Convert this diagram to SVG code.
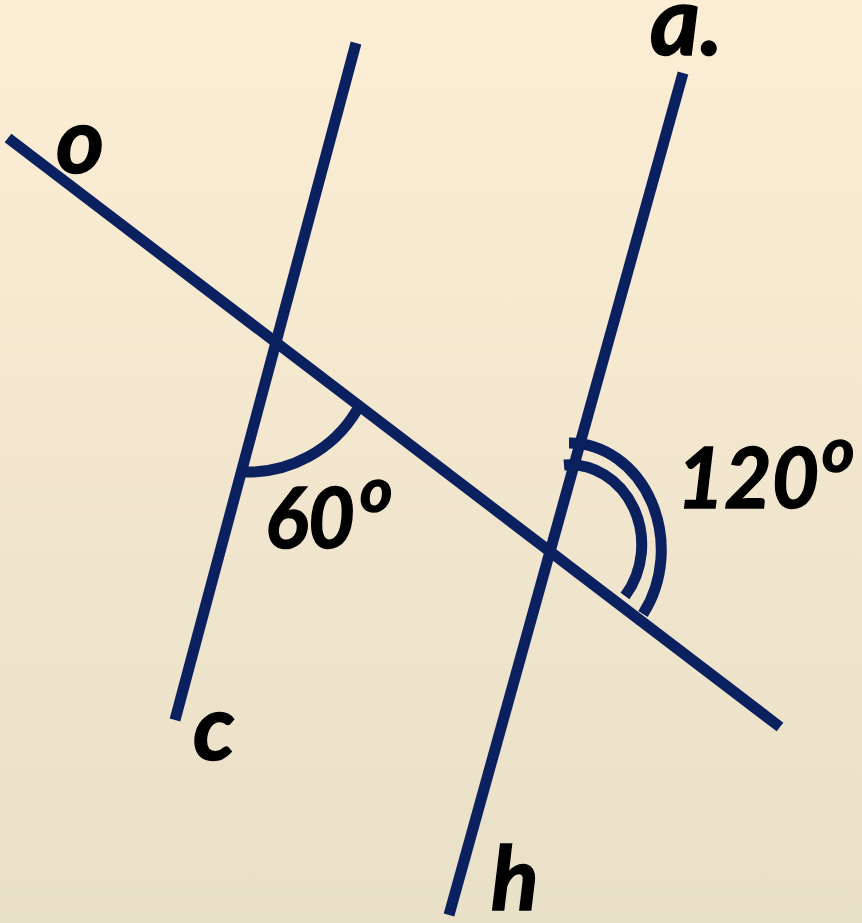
<svg xmlns="http://www.w3.org/2000/svg" width="862" height="923" viewBox="0 0 862 923">
  <defs>
    <linearGradient id="bg" x1="0" y1="0" x2="0" y2="1">
      <stop offset="0" stop-color="#FCEED5"/>
      <stop offset="1" stop-color="#E8E0C7"/>
    </linearGradient>
    <style>
      .ln { stroke: #0B215F; stroke-width: 11; fill: none; stroke-linecap: butt; }
      .lbl { font-family: "Lato", "Open Sans", sans-serif; font-weight: bold; font-style: italic; fill: #000; stroke: #000; stroke-width: 1.5; }
    </style>
  </defs>
  <rect width="862" height="923" fill="url(#bg)"/>
  <g id="connectors">
    <line id="line-o" class="ln" x1="8" y1="138" x2="780" y2="727"/>
    <line id="line-c" class="ln" x1="356" y1="43" x2="175" y2="720"/>
    <line id="line-a" class="ln" x1="683" y1="73" x2="449" y2="915"/>
  </g>
  <g id="angle-60">
    <path class="ln" d="M 243 472 A 127 127 0 0 0 357 410"/>
    <text class="lbl" x="265" y="548" font-size="84" textLength="90" lengthAdjust="spacingAndGlyphs">60</text>
    <text class="lbl" x="360" y="512" font-size="62">o</text>
  </g>
  <g id="angle-120">
    <path class="ln" d="M 569 443 A 92 107 0 0 1 643 614"/>
    <path class="ln" d="M 564 465 A 72 80 0 0 1 625 596"/>
    <text class="lbl" x="677" y="508" font-size="84" textLength="142" lengthAdjust="spacingAndGlyphs">120</text>
    <text class="lbl" x="822" y="472" font-size="62">o</text>
  </g>
  <g id="label-o"><text class="lbl" x="56" y="173" font-size="92">o</text></g>
  <g id="label-a"><text class="lbl" x="650" y="55" font-size="96">a.</text></g>
  <g id="label-c"><text class="lbl" x="193" y="760" font-size="92">c</text></g>
  <g id="label-h"><text class="lbl" x="491" y="910" font-size="88">h</text></g>
</svg>
